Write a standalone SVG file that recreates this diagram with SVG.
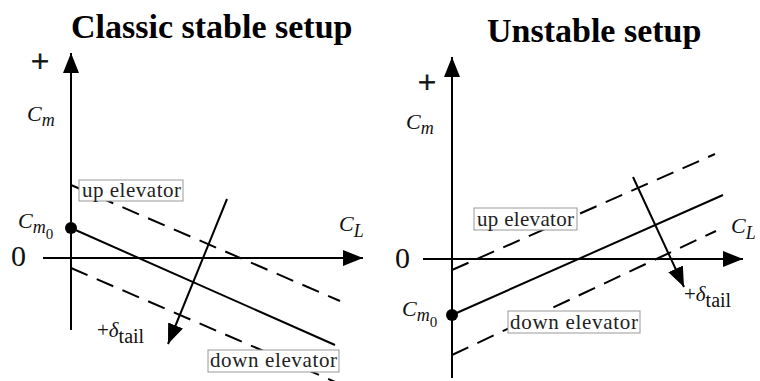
<svg xmlns="http://www.w3.org/2000/svg" width="760" height="381" viewBox="0 0 760 381">
<defs>
<marker id="ah" markerWidth="20" markerHeight="16" refX="20" refY="8" orient="auto" markerUnits="userSpaceOnUse">
<path d="M0,0 L20,8 L0,16 Z" fill="#000"/>
</marker>
<style>
.title{font-family:"Liberation Serif","Times New Roman",serif;font-weight:bold;font-size:34px;fill:#000}
.lbl{font-family:"Liberation Serif","Times New Roman",serif;font-size:21px;fill:#222}
.box{fill:#fff;stroke:#999;stroke-width:1}
.math{font-family:"Liberation Serif","Times New Roman",serif;font-style:italic;fill:#111}
.num{font-family:"Liberation Serif","Times New Roman",serif;fill:#111}
.plus{font-family:"Liberation Serif","Times New Roman",serif;fill:#111;stroke:#111;stroke-width:0.8}
.solid{stroke:#000;stroke-width:2;fill:none}
.dash{stroke:#000;stroke-width:2;fill:none;stroke-dasharray:18 10}
.arr{stroke:#000;stroke-width:2;fill:none;marker-end:url(#ah)}
</style>
</defs>
<rect width="760" height="381" fill="#fff"/>

<g id="left-panel">
<text class="title" x="71" y="38">Classic stable setup</text>
<g id="left-connectors">
<line class="arr" x1="71" y1="330" x2="71" y2="53"/>
<line class="arr" x1="43" y1="258" x2="363" y2="258"/>
<line class="solid" x1="71" y1="228" x2="335" y2="345"/>
<line class="dash" x1="71" y1="185" x2="340" y2="301"/>
<line class="dash" x1="71" y1="268" x2="340" y2="384"/>
<line class="arr" x1="227" y1="199" x2="168" y2="344"/>
</g>
<circle cx="71" cy="228" r="6" fill="#000"/>
<text class="plus" x="40" y="72" font-size="32" text-anchor="middle">+</text>
<text class="math" x="27" y="121" font-size="22">C<tspan font-size="18" dy="5">m</tspan></text>
<text class="math" x="18" y="228" font-size="22">C<tspan font-size="18" dy="5">m</tspan><tspan font-style="normal" font-size="15" dy="6">0</tspan></text>
<text class="num" x="11" y="266" font-size="30">0</text>
<text class="math" x="339" y="231" font-size="22">C<tspan font-size="18" dy="6">L</tspan></text>
<text class="math" x="97" y="337" font-size="21"><tspan font-style="normal">+</tspan>δ<tspan font-style="normal" font-size="20" dy="6">tail</tspan></text>
<g id="left-up-label">
<rect class="box" x="79" y="180" width="104" height="21"/>
<text class="lbl" x="82" y="197" textLength="99" lengthAdjust="spacing">up elevator</text>
</g>
<g id="left-down-label">
<rect class="box" x="208" y="350" width="131" height="22"/>
<text class="lbl" x="210" y="367" textLength="127" lengthAdjust="spacing">down elevator</text>
</g>
</g>

<g id="right-panel">
<text class="title" x="487" y="42">Unstable setup</text>
<g id="right-connectors">
<line class="arr" x1="452" y1="378" x2="452" y2="57"/>
<line class="arr" x1="423" y1="259" x2="743" y2="259"/>
<line class="solid" x1="452" y1="315" x2="723" y2="195"/>
<line class="dash" x1="452" y1="270" x2="715" y2="154"/>
<line class="dash" x1="452" y1="355" x2="716" y2="231"/>
<line class="arr" x1="633" y1="177" x2="684" y2="287"/>
</g>
<circle cx="452" cy="315" r="6" fill="#000"/>
<text class="plus" x="427" y="93" font-size="32" text-anchor="middle">+</text>
<text class="math" x="406" y="129" font-size="22">C<tspan font-size="18" dy="5">m</tspan></text>
<text class="math" x="402" y="316" font-size="22">C<tspan font-size="18" dy="5">m</tspan><tspan font-style="normal" font-size="15" dy="6">0</tspan></text>
<text class="num" x="395" y="268" font-size="30">0</text>
<text class="math" x="731" y="233" font-size="22">C<tspan font-size="18" dy="6">L</tspan></text>
<text class="math" x="684" y="301" font-size="21"><tspan font-style="normal">+</tspan>δ<tspan font-style="normal" font-size="20" dy="6">tail</tspan></text>
<g id="right-up-label">
<rect class="box" x="474" y="208" width="103" height="22"/>
<text class="lbl" x="477" y="226" textLength="97" lengthAdjust="spacing">up elevator</text>
</g>
<g id="right-down-label">
<rect class="box" x="508" y="311" width="132" height="22"/>
<text class="lbl" x="510" y="329" textLength="128" lengthAdjust="spacing">down elevator</text>
</g>
</g>
</svg>
